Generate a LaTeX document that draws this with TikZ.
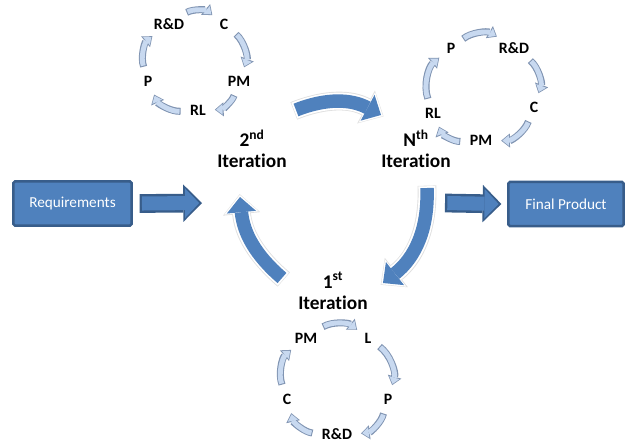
\documentclass[tikz,border=0pt]{standalone}
\usepackage{fontspec}
\setmainfont{Carlito}[Ligatures=NoCommon]
\usetikzlibrary{arrows.meta}
\definecolor{boxblue}{RGB}{79,129,189}
\definecolor{boxline}{RGB}{56,93,138}
\definecolor{cycfill}{RGB}{200,217,240}
\definecolor{cycline}{RGB}{128,148,178}

\tikzset{
  cyclab/.style={font=\bfseries\fontsize{13.5}{15}\selectfont, inner sep=2pt},
  iterlab/.style={font=\bfseries\fontsize{16.5}{18}\selectfont, align=center, inner sep=0pt},
  stagebox/.style={draw=boxline, fill=boxblue, line width=2.2pt, rounded corners=1.5pt, text=white,
    font=\fontsize{13}{15}\selectfont, minimum height=1.33cm},
  cycarrow/.style={draw=cycline, line width=6pt, -{Triangle[length=7.5pt,width=12pt,line width=0pt]},
    shorten <=6pt, shorten >=5.5pt,
    postaction={draw=cycfill, line width=4.2pt, -{Triangle[length=5.5pt,width=9pt,line width=0pt]},
      shorten <=6.9pt, shorten >=6.6pt}},
  flatarrow/.style={draw=boxline, line width=16pt, -{Triangle[length=16pt,width=32pt,line width=0pt]},
    postaction={draw=boxblue, line width=12pt, -{Triangle[length=12pt,width=25pt,line width=0pt]},
      shorten <=2pt, shorten >=2.4pt}},
  bigarrow/.style={draw=boxblue, line width=11.5pt, -{Triangle[length=13pt,width=25pt,line width=0pt]},
    preaction={draw=black!12, line width=16pt, -{Triangle[length=17pt,width=32pt,line width=0pt]},
      shorten <=-2pt, shorten >=-2.5pt},
    preaction={draw=white, line width=14.5pt, -{Triangle[length=15.5pt,width=29.5pt,line width=0pt]},
      shorten <=-1.5pt, shorten >=-1.8pt}}
}

\begin{document}
\begin{tikzpicture}[x=0.03cm, y=-0.03cm]
    \useasboundingbox (0,0) rectangle (631,442);

    % start and end
    \node[stagebox, minimum width=3.55cm] (req) at (72.5,203.5) {Requirements};
    \node[stagebox, minimum width=3.46cm] (fp) at (566,204) {Final Product};

    \node[iterlab] (it2) at (252,149) {2\textsuperscript{nd}\\Iteration};
    \node[iterlab] (itn) at (416,149) {N\textsuperscript{th}\\Iteration};
    \node[iterlab] (it1) at (333,291) {1\textsuperscript{st}\\Iteration};

    \coordinate (reqend) at (202,203);
    \coordinate (fpstart) at (445,203);
    \draw[flatarrow] ([xshift=0.2cm]req.east) -- (reqend);
    \draw[flatarrow] (fpstart) -- ([xshift=-0.17cm]fp.west);

    % big loop
    \coordinate (up1) at (282,278);
    \coordinate (up2) at (240,197);
    \coordinate (top1) at (296,110);
    \coordinate (top2) at (381,115);
    \coordinate (down1) at (427,188);
    \coordinate (down2) at (383,283);
    \draw[bigarrow] (up1) to[bend left=22] (up2);
    \draw[bigarrow] (top1) to[bend left=25] (top2);
    \draw[bigarrow] (down1) to[bend left=27] (down2);

    % 2nd iteration cycle
    \node[cyclab] (two-rd) at (169,24) {R\&D};
    \node[cyclab] (two-c) at (224,24) {C};
    \node[cyclab] (two-pm) at (239,81) {PM};
    \node[cyclab] (two-rl) at (198,110) {RL};
    \node[cyclab] (two-p) at (148,81) {P};
    \draw[cycarrow] (two-rd) to[bend left=35] (two-c);
    \draw[cycarrow] (two-c) to[bend left=35] (two-pm);
    \draw[cycarrow] (two-pm) to[bend left=35] (two-rl);
    \draw[cycarrow] (two-rl) to[bend left=35] (two-p);
    \draw[cycarrow] (two-p) to[bend left=35] (two-rd);

    % Nth iteration cycle
    \node[cyclab] (nth-p) at (451,48) {P};
    \node[cyclab] (nth-rd) at (514,48) {R\&D};
    \node[cyclab] (nth-c) at (534,107) {C};
    \node[cyclab] (nth-pm) at (481,140) {PM};
    \node[cyclab] (nth-rl) at (433,113) {RL};
    \draw[cycarrow] (nth-p) to[bend left=35] (nth-rd);
    \draw[cycarrow] (nth-rd) to[bend left=35] (nth-c);
    \draw[cycarrow] (nth-c) to[bend left=35] (nth-pm);
    \draw[cycarrow] (nth-pm) to[bend left=35] (nth-rl);
    \draw[cycarrow] (nth-rl) to[bend left=35] (nth-p);

    % 1st iteration cycle
    \node[cyclab] (one-pm) at (306,338) {PM};
    \node[cyclab] (one-l) at (368,338) {L};
    \node[cyclab] (one-p) at (388,399) {P};
    \node[cyclab] (one-rd) at (337,434) {R\&D};
    \node[cyclab] (one-c) at (287,399) {C};
    \draw[cycarrow] (one-pm) to[bend left=35] (one-l);
    \draw[cycarrow] (one-l) to[bend left=35] (one-p);
    \draw[cycarrow] (one-p) to[bend left=35] (one-rd);
    \draw[cycarrow] (one-rd) to[bend left=35] (one-c);
    \draw[cycarrow] (one-c) to[bend left=35] (one-pm);

\end{tikzpicture}
\end{document}
